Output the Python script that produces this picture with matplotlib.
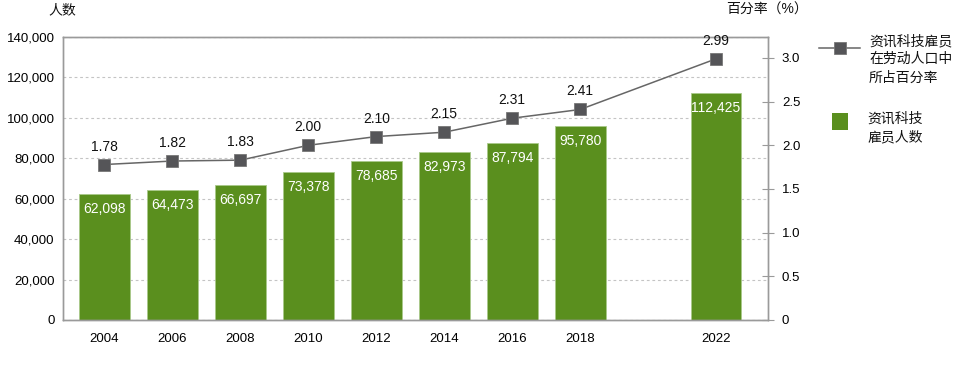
import matplotlib
matplotlib.use("Agg")
import matplotlib.pyplot as plt
from matplotlib.lines import Line2D
from matplotlib.patches import Rectangle

plt.rcParams['font.family'] = ['Liberation Sans', 'Noto Sans CJK SC', 'DejaVu Sans']

years = [2004, 2006, 2008, 2010, 2012, 2014, 2016, 2018, 2022]
employees = [62098, 64473, 66697, 73378, 78685, 82973, 87794, 95780, 112425]
share = [1.78, 1.82, 1.83, 2.00, 2.10, 2.15, 2.31, 2.41, 2.99]
left_ticks = [0, 20000, 40000, 60000, 80000, 100000, 120000, 140000]
right_ticks = [0, 0.5, 1.0, 1.5, 2.0, 2.5, 3.0]
legend_labels = ["资讯科技雇员\n在劳动人口中\n所占百分率", "资讯科技\n雇员人数"]

bar_color = '#5a8f1e'
line_color = '#666666'
marker_color = '#555558'
spine_color = '#9a9a9a'
fs = 9.5
cjk_fs = 10

W, H = 960, 370
fig = plt.figure(figsize=(W / 100, H / 100), dpi=100)
ax = fig.add_axes([63 / W, 50 / H, 705 / W, 283 / H])

ax.bar(years, employees, width=1.5, color=bar_color, edgecolor='#a9c98a', linewidth=0.6, zorder=2)
ax.set_xlim(2002.78, 2023.53)
ax.set_ylim(0, 140000)
ax.set_yticks(left_ticks)
ax.set_yticklabels([f"{v:,}" if v else "0" for v in left_ticks], fontsize=fs)
ax.set_xticks(years)
ax.set_xticklabels([str(y) for y in years], fontsize=fs)
ax.tick_params(axis='y', length=0, pad=6)
ax.tick_params(axis='x', length=0, pad=9)
ax.grid(axis='y', color='#c4c4c4', linestyle=(0, (2.5, 2.5)), linewidth=0.8, zorder=0)
ax.set_axisbelow(True)
for s in ax.spines.values():
    s.set_color(spine_color)
    s.set_linewidth(1.0)

for x, v in zip(years, employees):
    ax.annotate(f"{v:,}", (x, v), xytext=(0, -15), textcoords='offset pixels',
                ha='center', va='center', color='white', fontsize=fs + 0.5, zorder=3)

ax2 = ax.twinx()
ax2.set_ylim(0, 3.24)
ax2.set_yticks(right_ticks)
ax2.set_yticklabels(["0" if v == 0 else f"{v:.1f}" for v in right_ticks], fontsize=fs)
ax2.tick_params(axis='y', direction='inout', length=8, color=spine_color, pad=6)
for s in ax2.spines.values():
    s.set_color(spine_color)
    s.set_linewidth(1.0)
ax2.plot(years, share, color=line_color, linewidth=1.1, marker='s', markersize=8.5,
         markerfacecolor=marker_color, markeredgecolor='#777777', markeredgewidth=0.6, zorder=4)
for x, v in zip(years, share):
    ax2.annotate(f"{v:.2f}", (x, v), xytext=(0, 18), textcoords='offset pixels',
                 ha='center', va='center', color='#111111', fontsize=fs + 0.5)

fig.text(48 / W, 1 - 10 / H, "人数", ha='left', va='center', fontsize=cjk_fs, color='#111111')
fig.text(726 / W, 1 - 10 / H, "百分率（%）", ha='left', va='center', fontsize=cjk_fs, color='#111111')

# legend (drawn by hand to align handles with first text line)
y1 = 1 - 47.5 / H
fig.add_artist(Line2D([819 / W, 860 / W], [y1, y1], transform=fig.transFigure,
                      color=line_color, linewidth=1.1))
fig.add_artist(Line2D([839.5 / W], [y1], transform=fig.transFigure, marker='s', markersize=8.5,
                      markerfacecolor=marker_color, markeredgecolor='#777777', markeredgewidth=0.6,
                      linestyle='none'))
fig.add_artist(Rectangle((832 / W, 1 - 130 / H), 16 / W, 17 / H, transform=fig.transFigure,
                         facecolor=bar_color, edgecolor='none'))
fig.text(869 / W, 1 - 34 / H, legend_labels[0], ha='left', va='top', fontsize=cjk_fs,
         linespacing=1.38, color='#111111')
fig.text(867 / W, 1 - 112 / H, legend_labels[1], ha='left', va='top', fontsize=cjk_fs,
         linespacing=1.38, color='#111111')

fig.savefig("out.png", dpi=100)
